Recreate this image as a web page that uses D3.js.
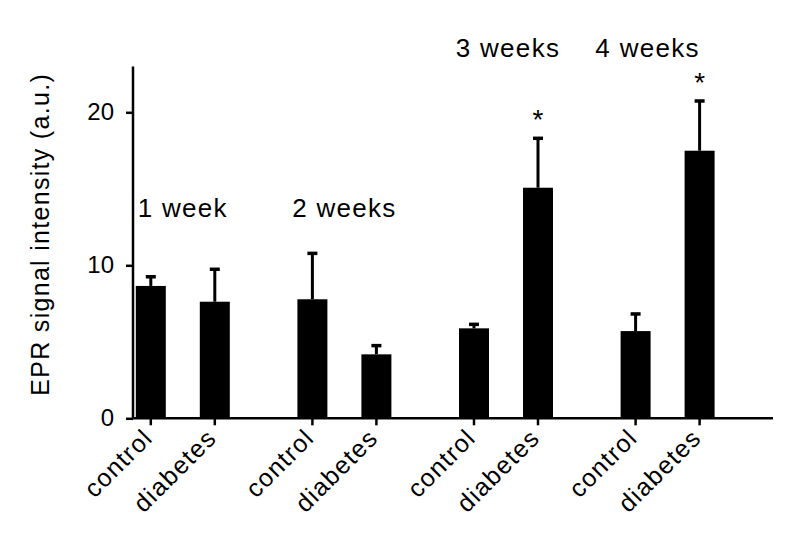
<!DOCTYPE html>
<html>
<head>
<meta charset="utf-8">
<script src="https://cdn.jsdelivr.net/npm/d3@7"></script>
<style>
  html, body { margin: 0; padding: 0; background: #fff; }
  svg { display: block; font-family: "Liberation Sans", Arial, Helvetica, sans-serif; }
</style>
</head>
<body>
<svg id="chart" width="809" height="534"></svg>
<script>
// ---- data ----
const weeks = ["1 week", "2 weeks", "3 weeks", "4 weeks"];
const conditions = ["control", "diabetes"];
const controlValues = [8.65, 7.78, 5.88, 5.70];
const controlErrors = [0.60, 3.00, 0.26, 1.12];
const diabetesValues = [7.62, 4.18, 15.07, 17.49];
const diabetesErrors = [2.12, 0.57, 3.23, 3.25];
const significant = [false, false, true, true]; // diabetes vs control
const yTicks = [0, 10, 20];
const yLabel = "EPR signal intensity (a.u.)";

// ---- build table ----
const rows = [];
weeks.forEach((w, i) => {
  rows.push({ week: w, cond: "control", value: controlValues[i], err: controlErrors[i], sig: false });
  rows.push({ week: w, cond: "diabetes", value: diabetesValues[i], err: diabetesErrors[i], sig: significant[i] });
});

const svg = d3.select("#chart");
const fontSize = 25;
const letterSp = 1.3;

const y = d3.scaleLinear().domain([0, 23]).range([418.3, 66.4]);
const xGroup = d3.scaleBand().domain(weeks).range([102, 748.4]).padding(0);
const xSub = d3.scalePoint().domain(conditions).range([48.8, 112.8]);
const barW = 30;
const xCenter = d => xGroup(d.week) + xSub(d.cond);

const axisLeftX = 133;
const axisRightX = 773;

// bars
svg.append("g").selectAll("rect").data(rows).join("rect")
  .attr("x", d => xCenter(d) - barW / 2)
  .attr("y", d => y(d.value))
  .attr("width", barW)
  .attr("height", d => y(0) - y(d.value))
  .attr("fill", "#000");

// error bars (upper only)
const eb = svg.append("g");
eb.selectAll("line.stem").data(rows).join("line")
  .attr("class", "stem")
  .attr("x1", xCenter).attr("x2", xCenter)
  .attr("y1", d => y(d.value)).attr("y2", d => y(d.value + d.err))
  .attr("stroke", "#000").attr("stroke-width", 3);
eb.selectAll("line.cap").data(rows).join("line")
  .attr("class", "cap")
  .attr("x1", d => xCenter(d) - 5).attr("x2", d => xCenter(d) + 5)
  .attr("y1", d => y(d.value + d.err)).attr("y2", d => y(d.value + d.err))
  .attr("stroke", "#000").attr("stroke-width", 3.5);

// significance asterisks
svg.append("g").selectAll("text").data(rows.filter(d => d.sig)).join("text")
  .attr("x", xCenter)
  .attr("y", d => y(d.value + d.err) - 9)
  .attr("text-anchor", "middle")
  .attr("font-size", 28)
  .text("*");

// y axis
const yAxis = svg.append("g")
  .attr("transform", `translate(${axisLeftX},0)`)
  .call(d3.axisLeft(y).tickValues(yTicks).tickSize(7).tickPadding(12).tickSizeOuter(0));
yAxis.select(".domain").remove();
yAxis.append("line").attr("x1", 0).attr("x2", 0).attr("y1", y(23)).attr("y2", y(0))
  .attr("stroke", "#000").attr("stroke-width", 2.5);
yAxis.selectAll(".tick line").attr("stroke-width", 2.5);
yAxis.selectAll(".tick text").attr("font-size", 24).attr("fill", "#000")
  .attr("font-family", "Liberation Sans, Arial, sans-serif");

// x axis
const xAxisG = svg.append("g");
xAxisG.append("line").attr("x1", axisLeftX).attr("x2", axisRightX)
  .attr("y1", y(0)).attr("y2", y(0)).attr("stroke", "#000").attr("stroke-width", 2.5);
xAxisG.selectAll("line.tick").data(rows).join("line")
  .attr("class", "tick")
  .attr("x1", xCenter).attr("x2", xCenter)
  .attr("y1", y(0)).attr("y2", y(0) + 7)
  .attr("stroke", "#000").attr("stroke-width", 2.5);
xAxisG.selectAll("text").data(rows).join("text")
  .attr("transform", d => `translate(${xCenter(d) - 3},${y(0) + 15}) rotate(-45)`)
  .attr("text-anchor", "end")
  .attr("dy", "0.35em")
  .attr("font-size", fontSize)
  .attr("letter-spacing", letterSp)
  .text(d => d.cond);

// y label
svg.append("text")
  .attr("transform", `translate(49,${(y(0) + y(23)) / 2 - 8}) rotate(-90)`)
  .attr("text-anchor", "middle")
  .attr("font-size", fontSize)
  .attr("letter-spacing", letterSp)
  .text(yLabel);

// week labels
const weekLabelY = [217, 217, 57, 57];
const weekLabelDx = [0, 0, 2, -20];
svg.append("g").selectAll("text").data(weeks).join("text")
  .attr("x", (w, i) => xGroup(w) + xGroup.bandwidth() / 2 + weekLabelDx[i])
  .attr("y", (w, i) => weekLabelY[i])
  .attr("text-anchor", "middle")
  .attr("font-size", fontSize + 1)
  .attr("letter-spacing", letterSp)
  .text(w => w);
</script>
</body>
</html>
